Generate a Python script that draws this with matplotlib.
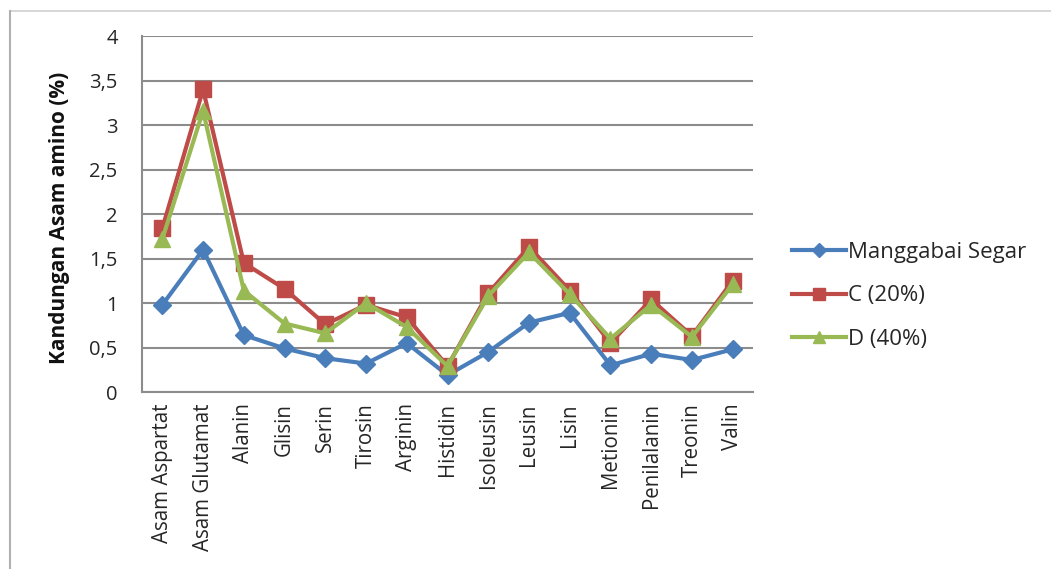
import matplotlib
matplotlib.use("Agg")
import matplotlib.pyplot as plt
from matplotlib.lines import Line2D
from matplotlib.ticker import FuncFormatter

categories = ["Asam Aspartat", "Asam Glutamat", "Alanin", "Glisin", "Serin", "Tirosin",
              "Arginin", "Histidin", "Isoleusin", "Leusin", "Lisin", "Metionin",
              "Penilalanin", "Treonin", "Valin"]
manggabai = [0.98, 1.60, 0.64, 0.49, 0.38, 0.32, 0.55, 0.19, 0.45, 0.78, 0.89, 0.30, 0.43, 0.36, 0.48]
c20 = [1.84, 3.40, 1.45, 1.16, 0.76, 0.98, 0.84, 0.29, 1.11, 1.63, 1.14, 0.55, 1.04, 0.63, 1.25]
d40 = [1.72, 3.16, 1.14, 0.77, 0.66, 1.00, 0.73, 0.29, 1.08, 1.57, 1.10, 0.60, 0.98, 0.62, 1.21]
series_names = ["Manggabai Segar", "C (20%)", "D (40%)"]
yticks = [0, 0.5, 1, 1.5, 2, 2.5, 3, 3.5, 4]

FONT = "Open Sans"
TXT = "#262626"
fig = plt.figure(figsize=(10.51, 5.69), dpi=100)
ax = fig.add_axes([0.1351, 0.311, 0.5814, 0.6257])

x = list(range(len(categories)))
ax.plot(x, manggabai, color="#4A7EBB", lw=3, marker="D", ms=9.5, label=series_names[0], zorder=3)
ax.plot(x, c20, color="#BE4B48", lw=3, marker="s", ms=11.5, label=series_names[1], zorder=4)
ax.plot(x, d40, color="#98B954", lw=3, marker="^", ms=11.5, label=series_names[2], zorder=5)

ax.set_xlim(-0.5, len(categories) - 0.5)
ax.set_ylim(0, 4)
ax.set_yticks(yticks)
ax.yaxis.set_major_formatter(FuncFormatter(lambda v, p: ("%g" % v).replace(".", ",")))
ax.set_xticks(x)
ax.set_xticklabels(categories, rotation=90, fontsize=14.8, family=FONT, color=TXT)
for lab in ax.get_yticklabels():
    lab.set_family(FONT); lab.set_fontsize(14.5); lab.set_color(TXT)
ax.tick_params(axis="x", length=0, pad=8)
ax.tick_params(axis="y", length=0, pad=17.5)
ax.grid(axis="y", color="#8C8C8C", lw=1.5)
ax.set_axisbelow(True)
for s in ["top", "right"]:
    ax.spines[s].set_visible(False)
for s in ["left", "bottom"]:
    ax.spines[s].set_color("#8C8C8C")
    ax.spines[s].set_linewidth(1.5)

ax.set_ylabel("Kandungan Asam amino (%)", fontsize=15, fontweight="bold", family=FONT, color="#111111")
ax.yaxis.set_label_coords(-0.118, 0.49)

leg = ax.legend(loc="center left", bbox_to_anchor=(1.05, 0.27), frameon=False,
                prop={"family": FONT, "size": 16}, handlelength=2.4, handletextpad=0.12,
                labelspacing=1.0, markerscale=0.75, borderaxespad=0)
for t in leg.get_texts():
    t.set_color(TXT)

# outer chart frame
fig.add_artist(Line2D([10/1051, 1], [1 - 11/569, 1 - 11/569], color="#D0D0D0", lw=1.2))
fig.add_artist(Line2D([10/1051, 10/1051], [0, 1 - 11/569], color="#B0B0B0", lw=1.5))

fig.savefig("out.png", dpi=100, facecolor="white")
